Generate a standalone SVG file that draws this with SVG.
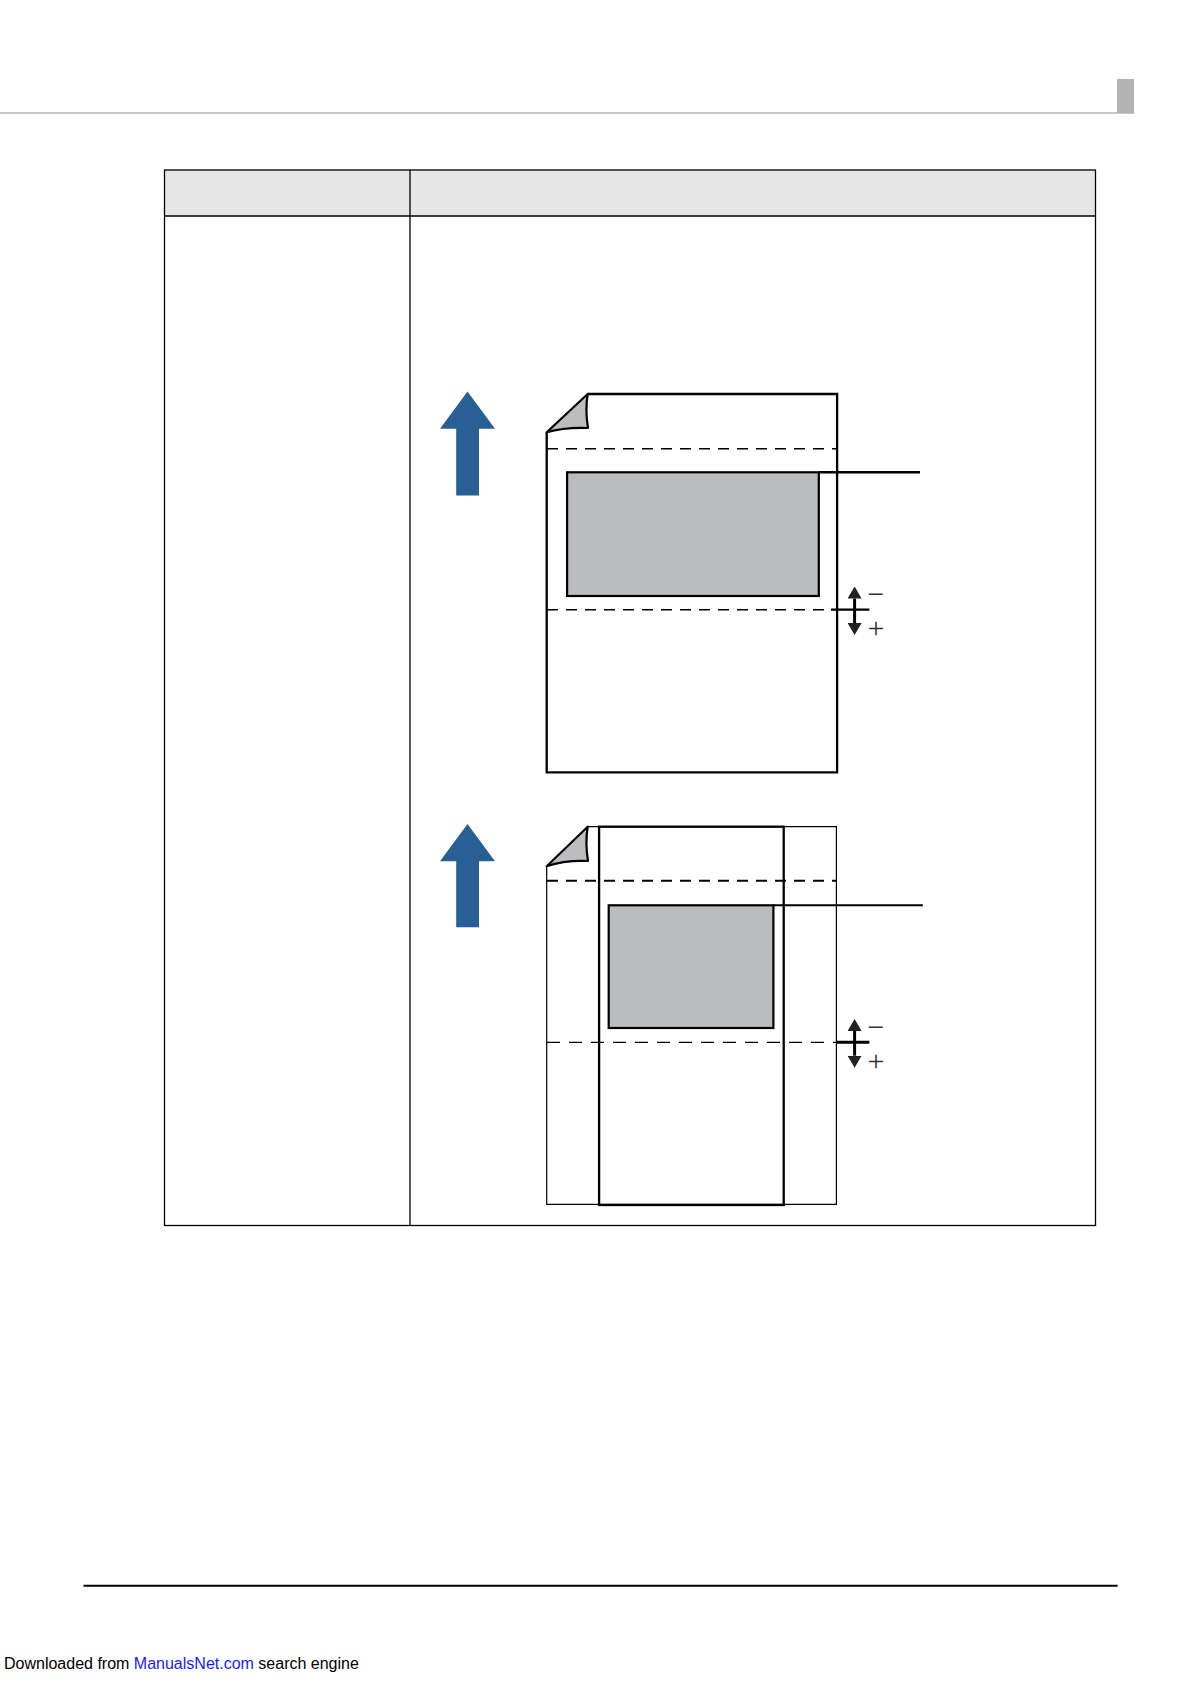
<svg xmlns="http://www.w3.org/2000/svg" width="1190" height="1684" viewBox="0 0 1190 1684">
<defs>
<style>
.ln{stroke:#000;fill:none}
.page{stroke:#000;stroke-width:2.3;fill:none;stroke-linejoin:miter}
.flap{fill:#bcbdc0;stroke:#000;stroke-width:2.2;stroke-linejoin:round}
.img{fill:#bbbcbf;stroke:#000;stroke-width:2.2}
.feed{fill:#285f94}
.dash{stroke:#000;fill:none;stroke-dasharray:11 8}
.sym{font-family:"Liberation Serif",serif;font-size:30px;fill:#333;text-anchor:middle}
.foot{font-family:"Liberation Sans",Arial,sans-serif;font-size:16px;fill:#000}
</style>
<marker id="ah" markerUnits="userSpaceOnUse" markerWidth="12" markerHeight="14" viewBox="0 0 12 14" refX="0" refY="7" orient="auto-start-reverse">
<path d="M0,0 L12,7 L0,14 z" fill="#222"/>
</marker>
</defs>
<rect width="1190" height="1684" fill="#fff"/>
<g id="header">
<line x1="0" y1="113" x2="1134" y2="113" stroke="#b8b8b8" stroke-width="1.5"/>
<rect x="1117" y="79" width="17" height="34" fill="#b3b3b3"/>
</g>
<g id="table">
<rect x="164.5" y="170" width="931" height="46" fill="#e6e6e6"/>
<rect x="164.5" y="170" width="931" height="1055.5" class="ln" stroke-width="1.3"/>
<line x1="164.5" y1="216" x2="1095.5" y2="216" class="ln" stroke-width="1.3"/>
<line x1="410" y1="170" x2="410" y2="1225.5" class="ln" stroke-width="1.3"/>
</g>
<g id="figure-upper">
<polygon class="feed" points="467.5,391.5 495,428.7 479,428.7 479,495.5 456.2,495.5 456.2,428.7 440,428.7"/>
<path class="page" d="M587.7,394 H837.1 V772.3 H546.7 V432.3"/>
<path class="flap" d="M546.7,432.3 L587.7,394 Q585,410 588,428 Q565,427 546.7,432.3 Z"/>
<line class="dash" x1="547" y1="448.7" x2="837" y2="448.7" stroke-width="1.6"/>
<rect class="img" x="567.1" y="472.3" width="251.7" height="123.7"/>
<line class="dash" x1="547" y1="609.7" x2="831" y2="609.7" stroke-width="1.6"/>
<line class="ln" x1="831" y1="609.7" x2="869.4" y2="609.7" stroke-width="2.2"/>
<text class="sym" x="876" y="604">−</text>
<text class="sym" x="876" y="638">+</text>
</g>
<g id="figure-lower">
<polygon class="feed" points="467.5,824 495,861.3 479,861.3 479,927.3 456.2,927.3 456.2,861.3 440,861.3"/>
<path class="ln" stroke-width="1.2" d="M587.7,826.7 H836.4 V1204.3 H546.7 V866.3"/>
<rect x="599.1" y="826.7" width="184.6" height="378.3" class="ln" stroke-width="2.3"/>
<path class="flap" d="M546.7,866.3 L587.7,826.7 Q585,843 588,861 Q565,860 546.7,866.3 Z"/>
<line class="dash" x1="547" y1="880.7" x2="836.4" y2="880.7" stroke-width="2"/>
<rect class="img" x="608.7" y="905.3" width="164.7" height="122.7"/>
<line class="ln" x1="547" y1="1042.3" x2="836" y2="1042.3" stroke-width="1.2" stroke-dasharray="13 9"/>
<line class="ln" x1="836.7" y1="1042.3" x2="869.4" y2="1042.3" stroke-width="3"/>
<text class="sym" x="876" y="1037">−</text>
<text class="sym" x="876" y="1070.5">+</text>
</g>
<g id="connectors">
<line class="ln" x1="818.8" y1="472.3" x2="920" y2="472.3" stroke-width="2.5"/>
<line class="ln" x1="854.6" y1="598.5" x2="854.6" y2="623" stroke-width="3" marker-start="url(#ah)" marker-end="url(#ah)"/>
<line class="ln" x1="773.4" y1="905.3" x2="922.8" y2="905.3" stroke-width="2"/>
<line class="ln" x1="854.6" y1="1031" x2="854.6" y2="1055.7" stroke-width="3" marker-start="url(#ah)" marker-end="url(#ah)"/>
</g>
<g id="footer">
<line x1="83.5" y1="1585.7" x2="1117.6" y2="1585.7" stroke="#000" stroke-width="2"/>
<text class="foot" x="4" y="1669">Downloaded from <tspan fill="#1a1aff">ManualsNet.com</tspan> search engine</text>
</g>
</svg>
